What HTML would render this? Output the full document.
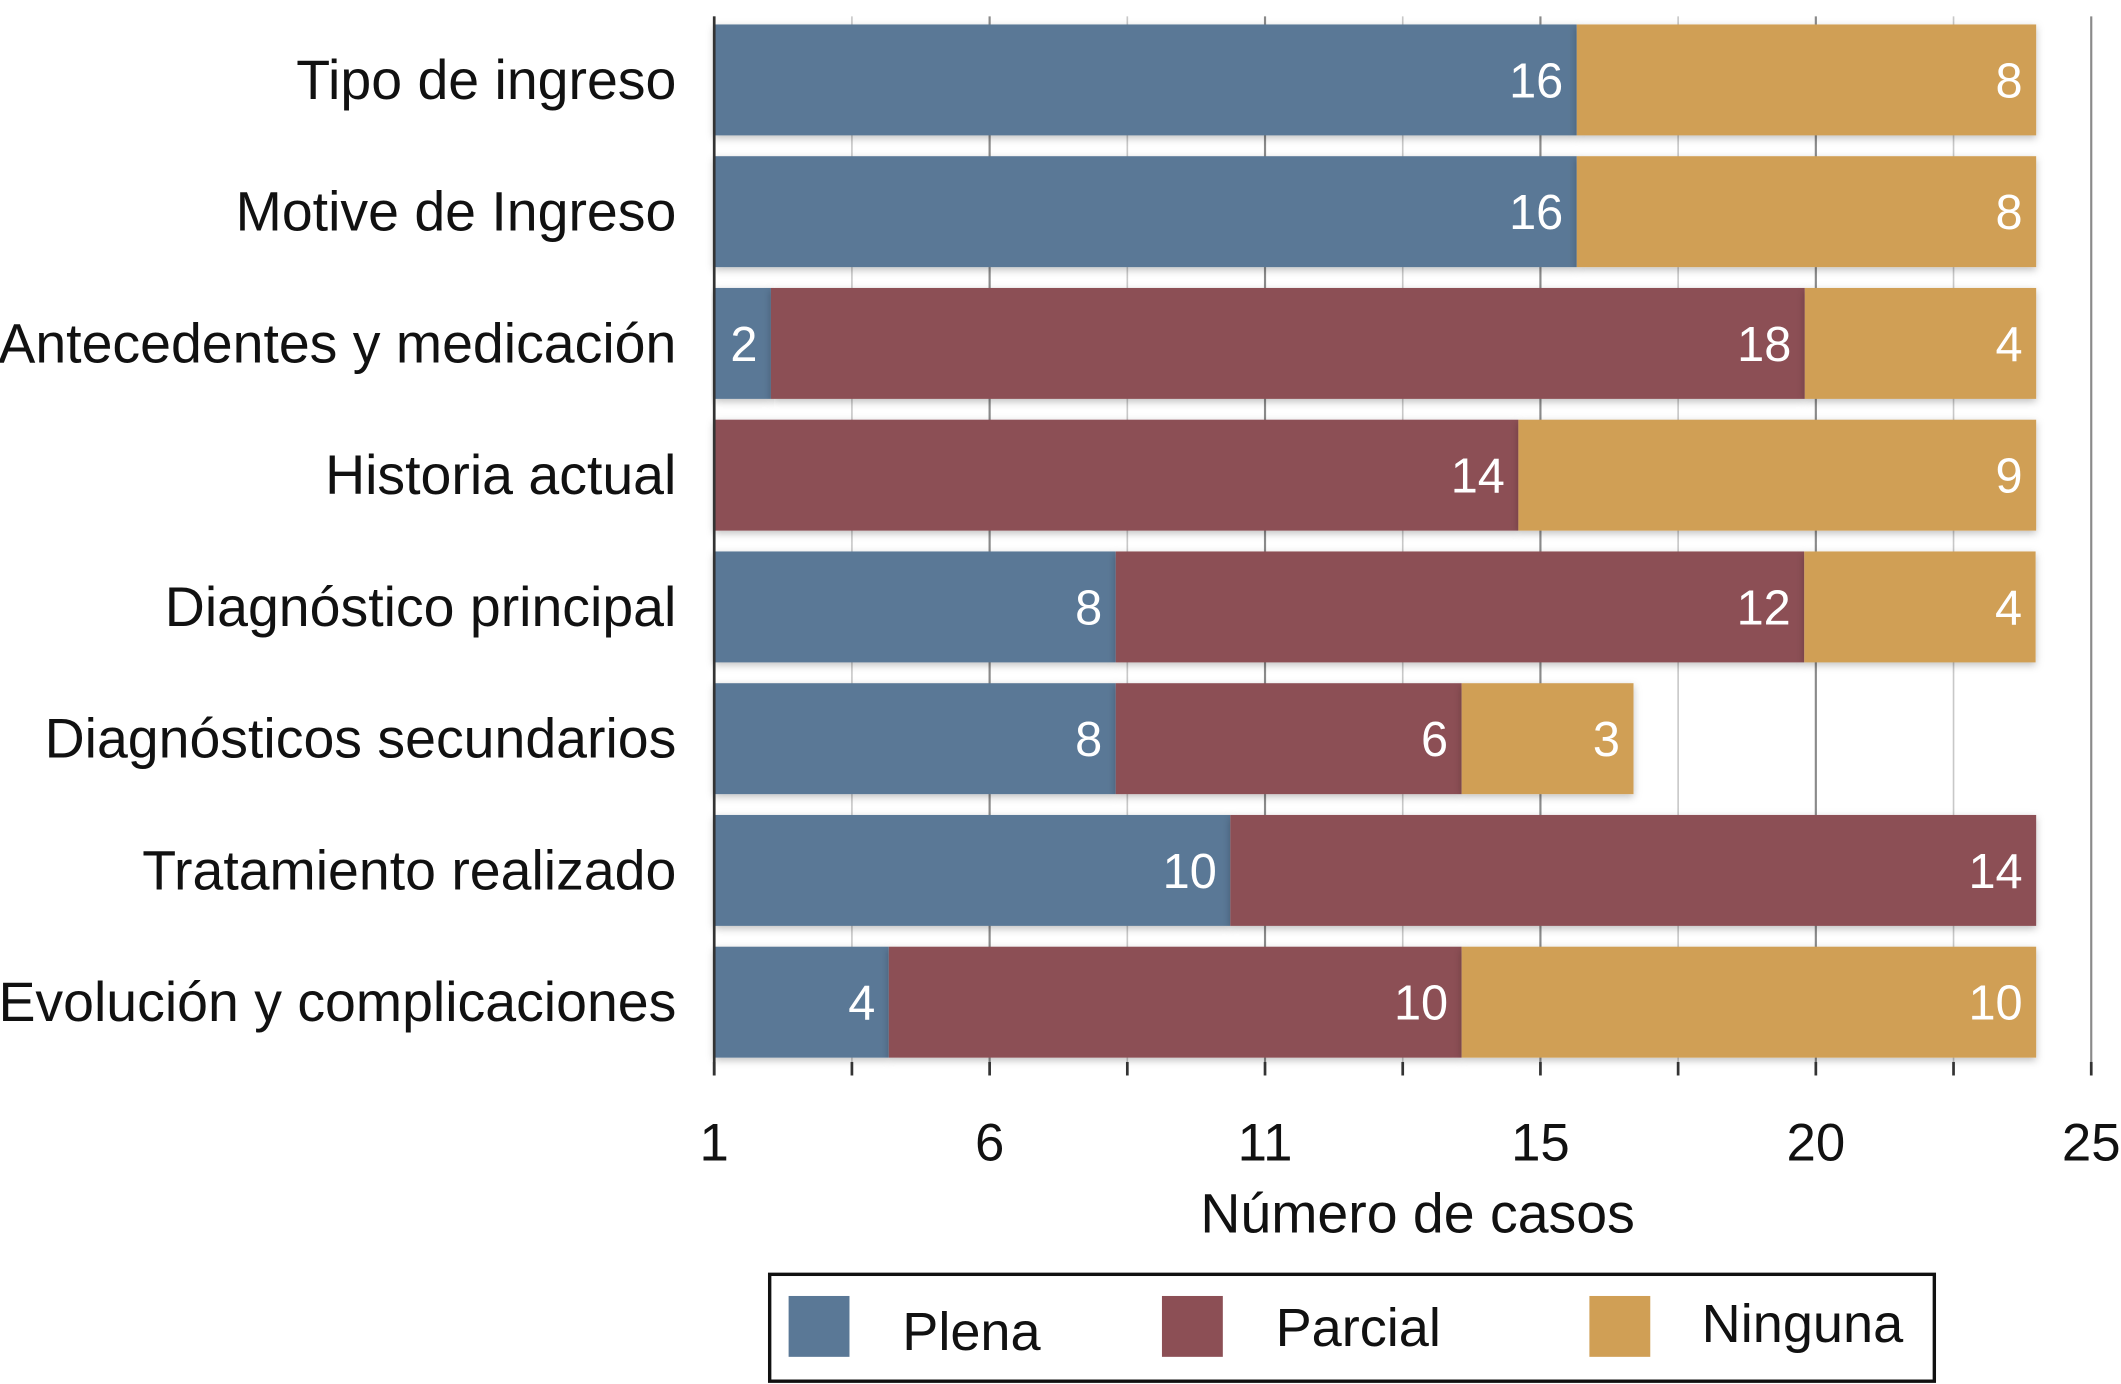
<!DOCTYPE html>
<html><head><meta charset="utf-8"><style>
html,body{margin:0;padding:0;background:#fff;}
svg{display:block;font-family:"Liberation Sans",sans-serif;}
</style></head><body>
<svg id="chart" width="2121" height="1384" viewBox="0 0 1568 1023" xmlns="http://www.w3.org/2000/svg">
<defs>
<filter id="sh" x="-5%" y="-20%" width="110%" height="150%"><feDropShadow dx="0" dy="2" stdDeviation="3" flood-color="#000" flood-opacity="0.25"/></filter>
</defs>
<g id="grid"></g>
<g id="bars"></g>
<g id="axis"></g>
<text x="1048" y="911" font-size="41" text-anchor="middle" fill="#111">Número de casos</text>
<g>
<rect x="569" y="942" width="861" height="79" fill="#fff" stroke="#111" stroke-width="2.5"/>
<g><rect x="583" y="958" width="45" height="45" fill="#5a7896"/><text x="667" y="998" font-size="40" fill="#111">Plena</text></g>
<g><rect x="859" y="958" width="45" height="45" fill="#8c4f55"/><text x="943" y="995" font-size="40" fill="#111">Parcial</text></g>
<g><rect x="1175" y="958" width="45" height="45" fill="#d09f55"/><text x="1258" y="992" font-size="40" fill="#111">Ninguna</text></g>
</g>
</svg>
<script>
const categories=["Tipo de ingreso","Motive de Ingreso","Antecedentes y medicación","Historia actual","Diagnóstico principal","Diagnósticos secundarios","Tratamiento realizado","Evolución y complicaciones"];
const plena=[15.66,15.66,1.03,0,7.29,7.29,9.37,3.17];
const parcial=[0,0,18.77,14.6,12.5,6.28,14.63,10.4];
const ninguna=[8.34,8.34,4.2,9.4,4.2,3.12,0,10.43];
const plenaLabels=["16","16","2","","8","8","10","4"];
const parcialLabels=["","","18","14","12","6","14","10"];
const ningunaLabels=["8","8","4","9","4","3","","10"];
const tickValues=[0,5,10,15,20,25];
const tickLabels=["1","6","11","15","20","25"];
const NS="http://www.w3.org/2000/svg";
const x0=528,x1=1546,maxV=25;
const xs=v=>x0+(x1-x0)*v/maxV;
const ys=i=>59+97.4*i;
const barH=82;
function mk(t,a,p){const e=document.createElementNS(NS,t);for(const k in a)e.setAttribute(k,a[k]);p.appendChild(e);return e;}
const grid=document.getElementById('grid'),bars=document.getElementById('bars'),axis=document.getElementById('axis');
for(let v=0;v<=maxV;v+=2.5){const l=mk('line',{x1:xs(v),x2:xs(v),y1:12,y2:785,stroke:v%5===0?'#8a8a8a':'#c8c8c8','stroke-width':v%5===0?1.6:1.2},grid);

}
const series=[[plena,plenaLabels,'#5a7896','plena'],[parcial,parcialLabels,'#8c4f55','parcial'],[ninguna,ningunaLabels,'#d09f55','ninguna']];
categories.forEach((c,i)=>{
  const y=ys(i);
  const lab=mk('text',{x:500,y:y+14,'font-size':41,'text-anchor':'end',fill:'#111'},bars);lab.textContent=c;
  
  
  let acc=0;
  series.forEach(([arr,labs,col,nm])=>{
    const v=arr[i];if(!v){return;}
    const r=mk('rect',{x:xs(acc),y:y-barH/2,width:xs(acc+v)-xs(acc),height:barH,fill:col,filter:'url(#sh)'},bars);
    
    
    acc+=v;
    const t=mk('text',{x:xs(acc)-10,y:y+13,'font-size':36,'text-anchor':'end',fill:'#fff'},bars);t.textContent=labs[i];
    
    
  });
});
mk('line',{x1:x0,x2:x0,y1:12,y2:795,stroke:'#333','stroke-width':2},axis);
for(let v=0;v<=maxV;v+=2.5){mk('line',{x1:xs(v),x2:xs(v),y1:785,y2:795,stroke:'#333','stroke-width':2},axis);}
tickValues.forEach((v,k)=>{const t=mk('text',{x:xs(v),y:858,'font-size':39,'text-anchor':'middle',fill:'#111'},axis);t.textContent=tickLabels[k];

});
</script>
</body></html>
